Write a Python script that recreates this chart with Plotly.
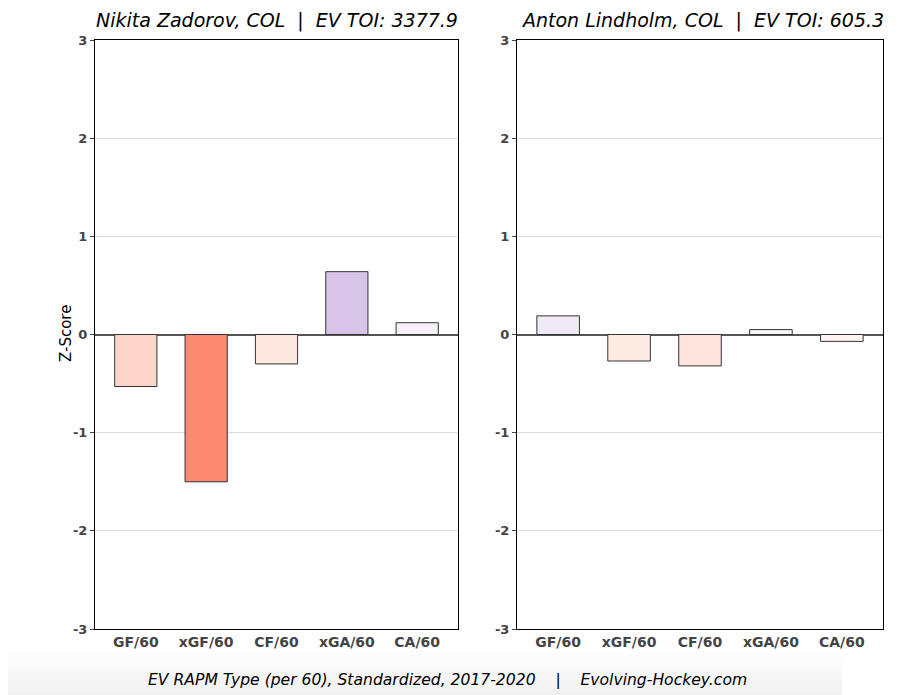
import plotly.graph_objects as go

categories = ["GF/60", "xGF/60", "CF/60", "xGA/60", "CA/60"]
zadorov_vals = [-0.53, -1.50, -0.30, 0.64, 0.12]
lindholm_vals = [0.19, -0.27, -0.32, 0.05, -0.07]
zadorov_colors = ["#fdd5ca", "#fe8a74", "#fde8e0", "#d8c4e8", "#f6f1f8"]
lindholm_colors = ["#f0eaf5", "#fdeae2", "#fee3dd", "#f8f6f9", "#fdf4f3"]
title_left = "Nikita Zadorov, COL  |  EV TOI: 3377.9"
title_right = "Anton Lindholm, COL  |  EV TOI: 605.3"
caption = "EV RAPM Type (per 60), Standardized, 2017-2020    |    Evolving-Hockey.com"
y_title = "Z-Score"
y_ticks = [-3, -2, -1, 0, 1, 2, 3]

OFF = 8  # page body margin
W, H = 922 - OFF, 695 - OFF


def px(sx):
    return (sx - OFF) / W


def py(sy):
    return 1 - (sy - OFF) / H


fig = go.Figure()
fig.add_trace(go.Bar(x=categories, y=zadorov_vals, marker=dict(color=zadorov_colors, line=dict(color="#333333", width=1)),
                     width=0.6, xaxis="x", yaxis="y", showlegend=False))
fig.add_trace(go.Bar(x=categories, y=lindholm_vals, marker=dict(color=lindholm_colors, line=dict(color="#333333", width=1)),
                     width=0.6, xaxis="x2", yaxis="y2", showlegend=False))

tickfont = dict(family="DejaVu Sans", size=14, color="#444444")
common_x = dict(type="category", range=[-0.58, 4.58], showline=True, linecolor="black", linewidth=1, mirror=True,
                ticks="", tickfont=tickfont, showgrid=False, fixedrange=True, automargin=False)
common_y = dict(range=[-3, 3], tickvals=y_ticks, ticktext=[f"<b>{v}</b>" for v in y_ticks], showline=True,
                linecolor="black", linewidth=1, mirror=True, ticks="outside", ticklen=4, tickcolor="#444444",
                tickfont=dict(family="DejaVu Sans", size=13, color="#444444"), showgrid=True, gridcolor="#dcdcdc", gridwidth=1,
                zeroline=True, zerolinecolor="#555555", zerolinewidth=1.5, automargin=False, fixedrange=True)

ydom = [py(629), py(40)]
fig.update_layout(
    width=W, height=H, margin=dict(l=0, r=0, t=0, b=0, pad=0, autoexpand=False),
    paper_bgcolor="white", plot_bgcolor="white",
    xaxis=dict(domain=[px(95), px(458)], anchor="y", tickvals=categories, ticktext=[f"<b>{c}</b>" for c in categories], **common_x),
    xaxis2=dict(domain=[px(517), px(883)], anchor="y2", tickvals=categories, ticktext=[f"<b>{c}</b>" for c in categories], **common_x),
    yaxis=dict(domain=ydom, anchor="x", **common_y),
    yaxis2=dict(domain=ydom, anchor="x2", **common_y),
    bargap=0.4,
)

# subtle bottom shading
n = 10
for i in range(n):
    y0 = py(650 + i * 4.5)
    y1 = py(650 + (i + 1) * 4.5)
    fig.add_shape(type="rect", xref="paper", yref="paper", x0=0, x1=1 - 80 / W, y0=y1, y1=y0,
                  fillcolor="#808080", opacity=0.011 * (i + 1), line=dict(width=0), layer="below")

fig.add_annotation(text=f"<i>{title_left}</i>", x=px(277), y=py(21), xref="paper", yref="paper", showarrow=False,
                   font=dict(family="DejaVu Sans", size=19, color="black"), xanchor="center", yanchor="middle")
fig.add_annotation(text=f"<i>{title_right}</i>", x=px(702), y=py(21), xref="paper", yref="paper", showarrow=False,
                   font=dict(family="DejaVu Sans", size=19, color="black"), xanchor="center", yanchor="middle")
fig.add_annotation(text=f"<i>{caption}</i>", x=px(447), y=py(680), xref="paper", yref="paper", showarrow=False,
                   font=dict(family="DejaVu Sans", size=15.6, color="black"), xanchor="center", yanchor="middle")
fig.add_annotation(text=y_title, x=px(66), y=py(334), xref="paper", yref="paper", showarrow=False, textangle=-90,
                   font=dict(family="DejaVu Sans", size=15, color="black"), xanchor="center", yanchor="middle")

fig.write_html("out.html")
